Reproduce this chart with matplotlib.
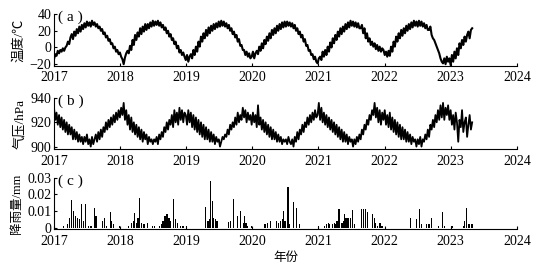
import numpy as np
import matplotlib
matplotlib.use("Agg")
import matplotlib.pyplot as plt

# weekly temperature (degC), starting 2017-01-01
temp_2017 = [-14, -8, -10, -4, -7, -3, -5, -1, -4, 0, 2, 7, 4, 12, 16, 10, 19, 14, 22, 17,
             25, 19, 27, 22, 29, 24, 31, 26, 30, 25, 32, 27, 30, 25, 28, 23, 25, 20, 22, 16,
             18, 12, 14, 8, 10, 4, 5, -1, 1, -5, -3, -8]
temp_2018 = [-6, -11, -14, -20, -12, -7, -4, -7, 2, -3, 9, 3, 15, 9, 18, 13, 23, 16, 25, 19,
             28, 21, 28, 23, 30, 25, 32, 26, 31, 27, 32, 26, 30, 24, 27, 21, 24, 17, 20, 13,
             16, 9, 11, 4, 7, -1, 2, -6, -3, -9, -6, -11]
temp_2019 = [-15, -9, -17, -11, -8, -13, -3, -9, 1, -5, 7, 1, 13, 7, 17, 11, 21, 14, 24, 17,
             26, 20, 28, 22, 29, 24, 31, 25, 32, 26, 31, 25, 29, 23, 27, 20, 23, 16, 19, 12,
             15, 7, 10, 2, 3, -3, -3, -9, -5, -11, -7, -13]
temp_2020 = [-11, -5, -13, -7, -4, -8, 1, -4, 5, -1, 9, 4, 13, 8, 17, 11, 21, 15, 23, 17,
             26, 20, 28, 22, 30, 24, 31, 25, 31, 26, 30, 25, 29, 23, 27, 20, 23, 16, 19, 12,
             15, 7, 10, 2, 3, -4, -3, -9, -8, -14, -11, -17]
temp_2021 = [-19, -13, -11, -15, -5, -11, -3, -9, 1, -5, 6, 0, 11, 5, 15, 9, 19, 13, 23, 16,
             25, 19, 28, 22, 30, 24, 32, 26, 31, 25, 30, 24, 29, 23, 23, 27, 17, 23, 11, 17,
             7, 11, 3, 7, 1, 5, -2, 3, -4, 1, -5, -1]
temp_2022 = [-3, -9, -5, -11, -4, -10, 1, -5, 7, 1, 13, 7, 17, 11, 21, 14, 23, 17, 26, 20,
             28, 22, 30, 24, 32, 26, 31, 25, 32, 26, 31, 25, 29, 23, 27, 21, 21, 25, 15, 11,
             9, 5, 1, -3, -7, -13, -17, -19, -13, -20, -11, -17]
temp_2023 = [-13, -21, -9, -17, -5, -13, -1, -9, 5, -1, 9, 3, 13, 7, 15, 19, 11, 21, 23]

# weekly air pressure (hPa)
pres_2017 = [932, 922, 928, 918, 926, 916, 924, 914, 922, 912, 920, 910, 918, 910, 916, 906, 914, 906, 912, 904,
             910, 904, 908, 902, 908, 904, 910, 902, 906, 900, 908, 902, 906, 910, 904, 912, 906, 914, 908, 916,
             912, 920, 914, 922, 916, 924, 918, 926, 920, 928, 922, 930]
pres_2018 = [924, 932, 926, 936, 922, 930, 918, 926, 914, 924, 912, 920, 910, 918, 908, 916, 906, 914, 904, 912,
             906, 910, 902, 908, 904, 906, 902, 906, 904, 908, 902, 910, 906, 912, 908, 916, 912, 920, 914, 922,
             918, 926, 916, 930, 920, 928, 918, 932, 922, 930, 920, 928]
pres_2019 = [926, 918, 930, 920, 928, 916, 926, 914, 924, 912, 922, 910, 920, 908, 918, 906, 916, 906, 914, 904,
             912, 904, 910, 902, 908, 904, 906, 900, 904, 908, 906, 910, 908, 914, 910, 918, 914, 920, 916, 924,
             918, 928, 920, 926, 922, 932, 924, 930, 920, 928, 922, 926]
pres_2020 = [918, 928, 920, 926, 916, 934, 918, 924, 914, 922, 912, 920, 910, 918, 908, 916, 906, 914, 906, 912,
             904, 910, 904, 908, 902, 906, 904, 906, 902, 908, 904, 902, 906, 900, 908, 904, 912, 906, 914, 910,
             918, 912, 920, 916, 924, 918, 926, 920, 928, 922, 930, 924]
pres_2021 = [926, 936, 922, 932, 920, 928, 918, 926, 916, 924, 914, 922, 912, 920, 910, 918, 908, 916, 906, 914,
             904, 912, 904, 910, 902, 908, 904, 906, 900, 906, 902, 908, 904, 910, 906, 914, 910, 918, 914, 922,
             918, 926, 922, 930, 926, 936, 924, 932, 920, 930, 918, 928]
pres_2022 = [922, 930, 918, 926, 916, 928, 914, 924, 912, 922, 910, 920, 908, 918, 906, 916, 906, 914, 904, 912,
             904, 910, 902, 908, 904, 906, 900, 906, 902, 908, 900, 906, 904, 910, 906, 914, 908, 918, 914, 922,
             916, 926, 920, 930, 922, 934, 924, 936, 922, 932, 926, 934]
pres_2023 = [922, 930, 918, 926, 914, 928, 920, 904, 922, 916, 930, 912, 920, 924, 908, 918, 926, 914, 920]

# rain events: decimal year, amount (mm)
rain_year = [2017.15, 2017.20, 2017.24, 2017.27, 2017.30, 2017.33, 2017.36, 2017.39, 2017.42, 2017.45,
             2017.48, 2017.52, 2017.56, 2017.61, 2017.635, 2017.73, 2017.76, 2017.80, 2017.85, 2017.875,
             2017.90, 2017.99, 2018.13, 2018.17, 2018.20, 2018.22, 2018.25, 2018.27, 2018.29, 2018.32,
             2018.35, 2018.37, 2018.41, 2018.49, 2018.52, 2018.60, 2018.63, 2018.65, 2018.68, 2018.71,
             2018.74, 2018.76, 2018.81, 2018.835, 2018.865, 2018.91, 2018.95, 2019.0, 2019.29, 2019.33,
             2019.355, 2019.37, 2019.395, 2019.415, 2019.44, 2019.465, 2019.64, 2019.665, 2019.72, 2019.77,
             2019.82, 2019.86, 2019.88, 2019.905, 2019.93, 2019.99,
             2020.19, 2020.23, 2020.27, 2020.37, 2020.40, 2020.43, 2020.45, 2020.47, 2020.495, 2020.54,
             2020.565, 2020.62, 2020.67, 2020.71, 2021.0, 2021.09, 2021.12, 2021.15, 2021.17, 2021.21,
             2021.24, 2021.26, 2021.28, 2021.31, 2021.355, 2021.375, 2021.39, 2021.415, 2021.435, 2021.46,
             2021.485, 2021.52, 2021.545, 2021.65, 2021.68, 2021.705, 2021.74, 2021.82, 2021.845, 2021.865,
             2021.89, 2021.93, 2021.96, 2022.39, 2022.48, 2022.53, 2022.56, 2022.63, 2022.67, 2022.71,
             2022.81, 2022.87, 2022.90, 2023.02, 2023.19, 2023.21, 2023.24, 2023.265, 2023.29, 2023.31,
             2023.33]
rain_mm = [0.001, 0.002, 0.006, 0.0165, 0.010, 0.007, 0.006, 0.005, 0.0145, 0.004,
           0.014, 0.001, 0.001, 0.012, 0.007, 0.004, 0.006, 0.001, 0.0097, 0.004,
           0.002, 0.001, 0.001, 0.003, 0.004, 0.009, 0.003, 0.006, 0.018, 0.003,
           0.002, 0.002, 0.003, 0.001, 0.001, 0.001, 0.002, 0.004, 0.007, 0.008,
           0.006, 0.004, 0.017, 0.005, 0.003, 0.001, 0.001, 0.001, 0.0125, 0.004,
           0.005, 0.028, 0.016, 0.006, 0.005, 0.004, 0.0035, 0.004, 0.017, 0.007,
           0.010, 0.003, 0.007, 0.003, 0.001, 0.001,
           0.002, 0.003, 0.004, 0.004, 0.003, 0.004, 0.005, 0.010, 0.004, 0.0244,
           0.002, 0.0155, 0.012, 0.002, 0.001, 0.001, 0.002, 0.003, 0.002, 0.002,
           0.003, 0.002, 0.004, 0.011, 0.003, 0.004, 0.008, 0.006, 0.006, 0.006,
           0.006, 0.0105, 0.002, 0.011, 0.0115, 0.011, 0.0095, 0.008, 0.006, 0.003,
           0.001, 0.003, 0.001, 0.006, 0.005, 0.0115, 0.002, 0.002, 0.002, 0.006,
           0.001, 0.0095, 0.001, 0.001, 0.001, 0.004, 0.012, 0.002, 0.002, 0.002,
           0.002]

year_ticks = [2017, 2018, 2019, 2020, 2021, 2022, 2023, 2024]

temp = temp_2017 + temp_2018 + temp_2019 + temp_2020 + temp_2021 + temp_2022 + temp_2023
pres = pres_2017 + pres_2018 + pres_2019 + pres_2020 + pres_2021 + pres_2022 + pres_2023
t_temp = 2017 + np.arange(len(temp)) * 7 / 365.25
t_pres = 2017 + np.arange(len(pres)) * 7 / 365.25

FONT = ['Liberation Serif', 'Noto Sans CJK SC']
plt.rcParams['font.family'] = FONT
plt.rcParams['font.size'] = 10

fig = plt.figure(figsize=(5.42, 2.70), dpi=100)
left, width = 0.0996, 0.854
ax_a = fig.add_axes([left, 0.756, width, 0.192])
ax_b = fig.add_axes([left, 0.448, width, 0.189])
ax_c = fig.add_axes([left, 0.152, width, 0.189])

ax_a.plot(t_temp, temp, color='black', lw=1.5)
ax_a.set_ylim(-22, 40)
ax_a.set_yticks([-20, 0, 20, 40])
ax_a.set_ylabel('温度/℃', labelpad=3, fontsize=9.5)

ax_b.plot(t_pres, pres, color='black', lw=1.3)
ax_b.set_ylim(898, 940)
ax_b.set_yticks([900, 920, 940])
ax_b.set_ylabel('气压/hPa', labelpad=3, fontsize=9.5)

ax_c.bar(rain_year, rain_mm, width=0.018, color='black')
ax_c.set_ylim(-0.0008, 0.03)
ax_c.set_yticks([0, 0.01, 0.02, 0.03])
ax_c.set_yticklabels(['0', '0.01', '0.02', '0.03'])
ax_c.set_ylabel('降雨量/mm', labelpad=3, fontsize=9)
ax_c.set_xlabel('年份', labelpad=3, fontsize=9)

for ax, tag in zip([ax_a, ax_b, ax_c], ['( a )', '( b )', '( c )']):
    ax.set_xlim(2017, 2024)
    ax.set_xticks(year_ticks)
    ax.spines['top'].set_visible(False)
    ax.spines['right'].set_visible(False)
    ax.tick_params(direction='in', length=2, width=0.8, labelsize=10)
    ax.tick_params(axis='x', pad=4)
    ax.tick_params(axis='y', pad=2)
    ax.text(0.009, 0.93, tag, transform=ax.transAxes, fontsize=11, va='center', ha='left')

fig.savefig('out.png', dpi=100)
